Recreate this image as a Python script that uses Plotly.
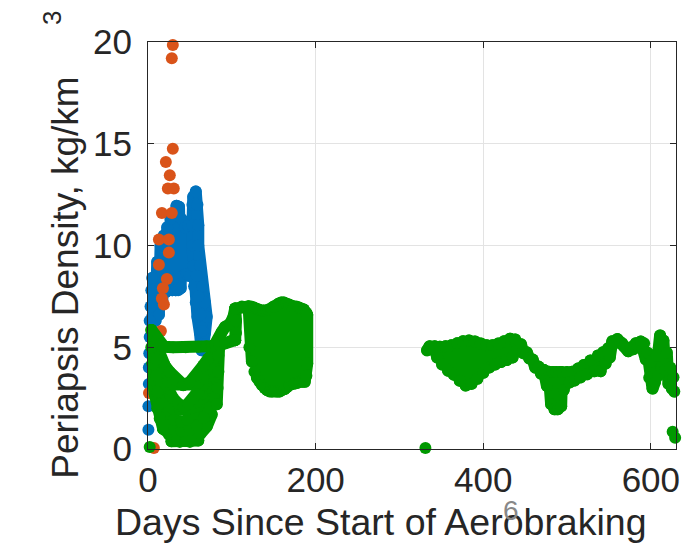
import plotly.graph_objects as go

# Periapsis density (kg/km^3) vs days since start of aerobraking.
# Each series is kept as short named strokes; points inside a stroke are
# consecutive passes, strokes are separated when drawn.

# ---- blue series ----
blue_dots_day = [0.5, 0.5]
blue_dots_val = [0.95, 2.1]
blue_left_day = [1, 1, 1.5, 2, 2, 3, 4, 5]
blue_left_val = [3.2, 4.0, 4.7, 5.5, 6.3, 7.0, 7.8, 8.4]
blue_body_day = [5, 7, 9, 11, 13, 15, 17, 19, 21, 23, 25, 27, 29, 31, 33, 34,
                 36, 37, 39, 40, 42, 44, 46, 48, 50]
blue_body_val = [6.5, 8.4, 6.3, 9.2, 6.6, 10.0, 7.1, 10.5, 7.7, 10.9, 7.8, 11.3,
                 7.8, 11.6, 7.8, 11.95, 7.8, 11.9, 7.9, 11.3, 8.5, 10.9, 8.6,
                 11.0, 8.5]
blue_col1_day = [54, 53, 53, 53, 54, 55, 57, 59, 62, 64]
blue_col1_val = [12.4, 12.0, 11.0, 10.0, 9.0, 8.0, 7.2, 6.5, 5.7, 4.85]
blue_col2_day = [57, 59, 60, 60, 62, 65, 68, 70, 68, 65]
blue_col2_val = [12.65, 12.0, 11.0, 10.0, 9.0, 8.0, 7.2, 6.5, 5.7, 4.9]
blue_col3_day = [58, 60, 63, 65]
blue_col3_val = [8.5, 7.5, 6.6, 5.8]

# ---- orange series ----
orange_day = [29.6, 28.4, 29.6, 21.3, 26, 23.7, 30.8, 16.6, 28.4, 13, 24.9,
              24.9, 13, 22.5, 17.8, 16.6, 19, 15.4, 1.2, 7]
orange_val = [19.85, 19.2, 14.75, 14.1, 13.45, 12.8, 12.8, 11.6, 11.6, 10.3,
              10.3, 9.65, 9.05, 8.35, 7.9, 7.4, 7.1, 5.8, 2.75, 0.05]

# ---- green series ----
green_dots_day = [2, 331, 626, 629]
green_dots_val = [0.1, 0.05, 0.85, 0.55]
green_a_day = [4, 8, 11, 15, 19, 30, 45, 60, 70, 76, 80, 84, 88, 92, 98, 102,
               104, 105, 105, 104]
green_a_val = [5.85, 5.6, 5.4, 5.15, 5.03, 5.0, 5.0, 5.02, 5.05, 5.05, 5.15,
               5.35, 5.75, 6.0, 6.15, 6.5, 6.9, 6.3, 5.7, 5.35]
green_loop_day = [85, 92, 98, 104]
green_loop_val = [5.1, 5.2, 5.3, 5.35]
green_link_day = [104, 112, 120]
green_link_val = [6.9, 7.0, 7.0]
green_b1_day = [8, 11, 14.5, 20, 26, 34, 42, 50, 58, 66, 72, 78, 83]
green_b1_val = [5.3, 4.95, 4.6, 4.1, 3.78, 3.37, 3.15, 3.28, 3.62, 4.1, 4.45,
                4.75, 4.9]
green_b2_day = [14, 19, 24, 30, 42, 54, 60, 66, 72, 78]
green_b2_val = [4.3, 3.7, 3.3, 3.17, 3.13, 3.17, 3.25, 3.55, 3.95, 4.4]
green_c1_day = [12, 18, 23, 27, 30, 36, 42, 48, 54, 60, 66, 72, 78]
green_c1_val = [3.9, 3.3, 2.9, 2.63, 2.48, 2.23, 2.06, 2.23, 2.48, 2.78, 3.15,
                3.6, 4.1]
green_c2_day = [18, 24, 30, 38, 46, 52, 58, 64, 70, 76]
green_c2_val = [2.9, 2.3, 1.97, 1.93, 1.93, 2.0, 2.3, 2.7, 3.1, 3.6]
green_d_day = [15, 20, 25, 31, 40, 47, 54, 60, 66, 72, 78]
green_d_val = [2.9, 2.3, 1.85, 1.42, 1.33, 1.42, 1.75, 2.1, 2.5, 3.0, 3.5]
green_e_day = [15, 22, 30, 40, 50, 58, 66, 72, 78]
green_e_val = [1.9, 1.3, 0.98, 0.88, 0.92, 1.15, 1.55, 2.05, 2.6]
green_f_day = [18, 25, 35, 45, 55, 62, 70, 76]
green_f_val = [1.0, 0.7, 0.47, 0.4, 0.47, 0.72, 1.1, 1.7]
green_g_day = [28, 38, 50, 60]
green_g_val = [0.38, 0.35, 0.35, 0.42]
green_left_day = [4, 4, 5, 6, 8, 11, 14, 18]
green_left_val = [5.85, 5.0, 4.2, 3.4, 2.7, 2.0, 1.5, 1.0]
green_left2_day = [10, 10, 10, 11, 13]
green_left2_val = [5.2, 4.4, 3.6, 2.8, 2.2]
green_right_day = [82, 83, 84, 84, 85]
green_right_val = [2.2, 3.0, 3.8, 4.6, 5.2]
green_blob_day = [120, 121, 123, 124, 126, 127, 129, 130, 132, 133, 135, 136,
                  138, 139, 141, 142, 144, 145, 147, 148, 150, 151, 153, 154,
                  156, 157, 159, 160, 162, 163, 165, 166, 168, 169, 171, 172,
                  174, 175, 177, 178, 180, 181, 183, 184, 186, 187, 189, 189,
                  190, 190]
green_blob_val = [7.0, 5.0, 7.0, 4.3, 6.95, 3.8, 6.9, 3.5, 6.85, 3.3, 6.8, 3.15,
                  6.8, 3.0, 6.8, 2.9, 6.85, 2.82, 6.9, 2.82, 7.0, 2.82, 7.05,
                  2.82, 7.15, 2.82, 7.2, 2.9, 7.2, 2.95, 7.15, 3.05, 7.1, 3.15,
                  7.05, 3.2, 7.0, 3.22, 7.0, 3.25, 6.95, 3.3, 6.9, 3.3, 6.85,
                  3.3, 6.7, 3.6, 4.2, 6.6]
green_late_day = [333, 336, 338, 342, 345, 348, 351, 355, 358, 362, 365, 369,
                  372, 376, 379, 383, 386, 390, 393, 397, 400, 404, 407, 411,
                  414, 418, 421, 425, 428, 432, 435, 438, 441, 445, 448, 452,
                  455, 459, 462, 466, 469, 472, 476, 478, 481, 483, 485, 487,
                  489, 491, 493, 494, 496, 500, 503, 506, 509, 513, 516, 520,
                  524, 528, 533, 537, 540, 543, 546, 549, 551, 554, 556, 560,
                  563, 566, 568, 571, 573, 576, 579, 582, 585, 588, 590, 592,
                  594, 596, 598, 600, 602, 605, 607, 609, 611, 613, 615, 617,
                  619, 621, 623, 625, 627, 628]
green_late_val = [4.85, 5.05, 4.9, 5.05, 4.5, 5.03, 4.15, 5.05, 3.85, 5.1, 3.65,
                  5.2, 3.35, 5.3, 3.12, 5.33, 3.2, 5.28, 3.45, 5.18, 3.75, 5.1,
                  4.0, 5.1, 4.15, 5.18, 4.27, 5.3, 4.37, 5.42, 4.5, 5.38, 4.95,
                  5.15, 4.7, 4.75, 4.45, 4.4, 4.0, 4.05, 3.7, 3.9, 3.1, 3.8,
                  2.2, 3.78, 1.95, 3.78, 1.95, 3.78, 2.1, 3.78, 2.9, 3.78, 3.27,
                  3.8, 3.37, 3.95, 3.52, 4.13, 3.67, 4.35, 3.82, 4.6, 3.82,
                  4.75, 4.2, 4.95, 4.5, 5.3, 5.17, 5.4, 5.27, 5.2, 5.05, 4.95,
                  4.8, 5.0, 4.9, 5.2, 5.05, 5.28, 4.95, 5.2, 4.4, 4.73, 3.5,
                  4.3, 2.97, 3.3, 4.6, 3.6, 5.58, 4.0, 5.33, 3.9, 4.73, 3.2,
                  4.0, 2.97, 3.53, 2.82]

BLUE = "#0072BD"
ORANGE = "#D95319"
GREEN = "#009900"
INK = "#262626"
FONT = "Liberation Sans"
DOT = 12


def strokes(*pairs):
    """Join (days, values) strokes into one x/y list split by gaps."""
    xs, ys = [], []
    for days, vals in pairs:
        xs += list(days) + [None]
        ys += list(vals) + [None]
    return xs, ys


def add_series(fig, pairs, color):
    xs, ys = strokes(*pairs)
    fig.add_trace(
        go.Scatter(
            x=xs,
            y=ys,
            mode="lines+markers",
            line=dict(color=color, width=DOT),
            marker=dict(color=color, size=DOT, line=dict(width=0)),
            connectgaps=False,
            cliponaxis=False,
            showlegend=False,
            hoverinfo="skip",
        )
    )


fig = go.Figure()

add_series(
    fig,
    [
        (blue_body_day, blue_body_val),
        (blue_col1_day, blue_col1_val),
        (blue_col2_day, blue_col2_val),
        (blue_col3_day, blue_col3_val),
        (blue_left_day, blue_left_val),
    ]
    + [([d], [v]) for d, v in zip(blue_dots_day, blue_dots_val)],
    BLUE,
)
add_series(fig, [([d], [v]) for d, v in zip(orange_day, orange_val)], ORANGE)
add_series(
    fig,
    [
        (green_g_day, green_g_val),
        (green_f_day, green_f_val),
        (green_e_day, green_e_val),
        (green_d_day, green_d_val),
        (green_c2_day, green_c2_val),
        (green_c1_day, green_c1_val),
        (green_b2_day, green_b2_val),
        (green_b1_day, green_b1_val),
        (green_left_day, green_left_val),
        (green_left2_day, green_left2_val),
        (green_right_day, green_right_val),
        (green_a_day, green_a_val),
        (green_loop_day, green_loop_val),
        (green_link_day, green_link_val),
        (green_blob_day, green_blob_val),
        (green_late_day, green_late_val),
    ]
    + [([d], [v]) for d, v in zip(green_dots_day, green_dots_val)],
    GREEN,
)

axis_style = dict(
    showgrid=True,
    gridcolor="#e3e3e3",
    gridwidth=1,
    showline=True,
    linecolor=INK,
    linewidth=1,
    mirror="ticks",
    ticks="inside",
    ticklen=6,
    tickcolor=INK,
    tickfont=dict(family=FONT, size=35, color=INK),
    zeroline=False,
)

fig.update_layout(
    width=684,
    height=544,
    paper_bgcolor="white",
    plot_bgcolor="white",
    margin=dict(l=148, r=4, t=42, b=95),
    xaxis=dict(range=[0, 630], tickvals=[0, 200, 400, 600], **axis_style),
    yaxis=dict(range=[0, 20], tickvals=[0, 5, 10, 15, 20],
               ticklabelstandoff=8, **axis_style),
    annotations=[
        dict(
            text="Days Since Start of Aerobraking",
            x=0.4417, y=-0.179, xref="paper", yref="paper",
            xanchor="center", yanchor="middle", showarrow=False,
            font=dict(family=FONT, size=37.5, color=INK),
        ),
        dict(
            text="Periapsis Density, kg/km",
            x=-0.158, y=0.42, xref="paper", yref="paper",
            xanchor="center", yanchor="middle", textangle=-90, showarrow=False,
            font=dict(family=FONT, size=37, color=INK),
        ),
        dict(
            text="3",
            x=-0.182, y=1.059, xref="paper", yref="paper",
            xanchor="center", yanchor="middle", textangle=-90, showarrow=False,
            font=dict(family=FONT, size=26, color=INK),
        ),
        dict(
            text="6",
            x=0.688, y=-0.152, xref="paper", yref="paper",
            xanchor="center", yanchor="middle", showarrow=False,
            font=dict(family=FONT, size=28, color="#888888"),
        ),
    ],
)

# zero the page margin (it would shift the figure) and round the stroke joins
page_js = (
    "document.body.style.margin='0px';"
    "var s=document.createElement('style');"
    "s.textContent='.js-line{stroke-linejoin:round;stroke-linecap:round}';"
    "document.head.appendChild(s);"
)
fig.write_html("out.html", config={"displayModeBar": False}, post_script=page_js)
